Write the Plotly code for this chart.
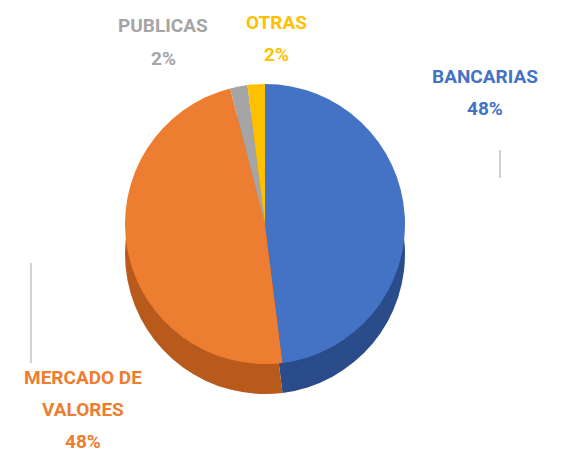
import plotly.graph_objects as go

labels = ["BANCARIAS", "MERCADO DE VALORES", "PUBLICAS", "OTRAS"]
label_lines = [["BANCARIAS"], ["MERCADO DE", "VALORES"], ["PUBLICAS"], ["OTRAS"]]
values = [48, 48, 2, 2]
colors = ["#4472C4", "#ED7D31", "#A5A5A5", "#FFC000"]
side_colors = ["#2B4C8A", "#B85A1C", "#7F7F7F", "#C49300"]
label_pos = [(477, 68), (75, 369), (155, 18), (268, 14)]

W, H = 568, 452
cx, cy, r, depth = 257, 216, 140, 30
line_gap = 32


def dom(yc):
    return dict(x=[(cx - r) / W, (cx + r) / W], y=[(H - yc - r) / H, (H - yc + r) / H])


common = dict(labels=labels, values=values, sort=False, direction="clockwise", rotation=0,
              textinfo="none", showlegend=False)

# side (depth) of the pie
fig = go.Figure(go.Pie(marker=dict(colors=side_colors, line=dict(width=0)),
                       hoverinfo="skip", domain=dom(cy + depth), **common))
# top face
fig.add_trace(go.Pie(marker=dict(colors=colors, line=dict(width=0)),
                     hoverinfo="label+percent", domain=dom(cy), **common))

total = sum(values)
for lines, v, c, (px, py) in zip(label_lines, values, colors, label_pos):
    for i, t in enumerate(lines + [f"{round(100 * v / total)}%"]):
        fig.add_annotation(
            x=px / W, y=1 - (py + i * line_gap) / H, xref="paper", yref="paper",
            text=f"<b>{t}</b>", showarrow=False,
            font=dict(family="Liberation Sans Narrow, Roboto", size=19, color=c),
            xanchor="center", yanchor="middle",
        )

# leader lines
for x0, y0, x1, y1 in [(492, 142, 492, 170), (23, 255, 23, 355)]:
    fig.add_shape(type="line", xref="paper", yref="paper",
                  x0=x0 / W, y0=1 - y0 / H, x1=x1 / W, y1=1 - y1 / H,
                  line=dict(color="#A6A6A6", width=1))

fig.update_layout(width=W, height=H, margin=dict(l=0, r=0, t=0, b=0),
                  paper_bgcolor="white", plot_bgcolor="white")
fig.write_html("out.html")
